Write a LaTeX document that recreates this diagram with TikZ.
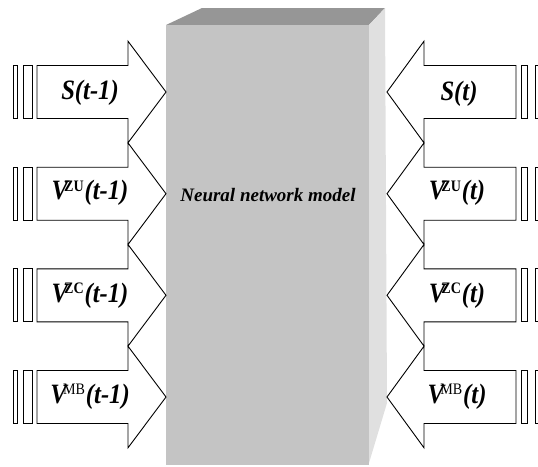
\documentclass[tikz,border=0pt]{standalone}
\usepackage{fontspec}
\setmainfont{Liberation Serif}
\usepackage{graphicx}
\definecolor{frontgray}{HTML}{C4C4C4}
\definecolor{topgray}{HTML}{969696}
\definecolor{sidegray}{HTML}{E0E0E0}
\newcommand\lbl[1]{\scalebox{0.88}[1]{\fontsize{28}{30}\selectfont\bfseries\itshape #1}}
\newcommand\supb[1]{\kern-4.5pt\raisebox{8.5pt}{\fontsize{16}{16}\selectfont\upshape\bfseries #1}\kern1pt}
\newcommand\supm[1]{\kern-4pt\raisebox{8.5pt}{\fontsize{16}{16}\selectfont\upshape\mdseries #1}\kern1pt}
\begin{document}
\begin{tikzpicture}[x=1pt,y=-1pt,
  arrowline/.style={draw=black,line width=0.9pt,fill=white,line join=miter},
  barline/.style={draw=black,line width=0.9pt,fill=white},
  lab/.style={anchor=base,inner sep=0pt}]
\useasboundingbox (0,0) rectangle (538,466);
% box
\fill[topgray] (166,25) -- (202,8) -- (385,8) -- (369,25) -- cycle;
\fill[sidegray] (369,25) -- (385,8) -- (387,403) -- (369,463) -- cycle;
\node[fill=frontgray,minimum width=203pt,minimum height=440pt,inner sep=0pt,anchor=north west] (box) at (166,25) {};
\node[inner sep=0pt] (title) at (268,195) {\fontsize{19}{20}\selectfont\bfseries\itshape Neural network model};
% arrows
\foreach \c in {92,193.7,295.3,397}{
  \draw[arrowline] (37,\c-26.5) -- (128,\c-26.5) -- (128,\c-50.8) -- (166,\c) -- (128,\c+50.8) -- (128,\c+26.5) -- (37,\c+26.5) -- cycle;
  \draw[barline] (23,\c-26.5) rectangle (32.3,\c+26.5);
  \draw[barline] (13.3,\c-26.5) rectangle (17.3,\c+26.5);
  \draw[arrowline] (516,\c-26.5) -- (424,\c-26.5) -- (424,\c-50.8) -- (387,\c) -- (424,\c+50.8) -- (424,\c+26.5) -- (516,\c+26.5) -- cycle;
  \draw[barline] (521,\c-26.5) rectangle (527,\c+26.5);
  \draw[barline] (535,\c-26.5) rectangle (541,\c+26.5);
}
% labels
\node[lab] (l1) at (90,99) {\lbl{S(t-1)}};
\node[lab] (l2) at (90,199.7) {\lbl{V\supb{ZU}(t-1)}};
\node[lab] (l3) at (90,302) {\lbl{V\supb{ZC}(t-1)}};
\node[lab] (l4) at (90,403) {\lbl{V\supm{MB}(t-1)}};
\node[lab] (r1) at (459,100) {\lbl{S(t)}};
\node[lab] (r2) at (457,199.7) {\lbl{V\supb{ZU}(t)}};
\node[lab] (r3) at (457,302) {\lbl{V\supb{ZC}(t)}};
\node[lab] (r4) at (457,403) {\lbl{V\supm{MB}(t)}};
\end{tikzpicture}
\end{document}
